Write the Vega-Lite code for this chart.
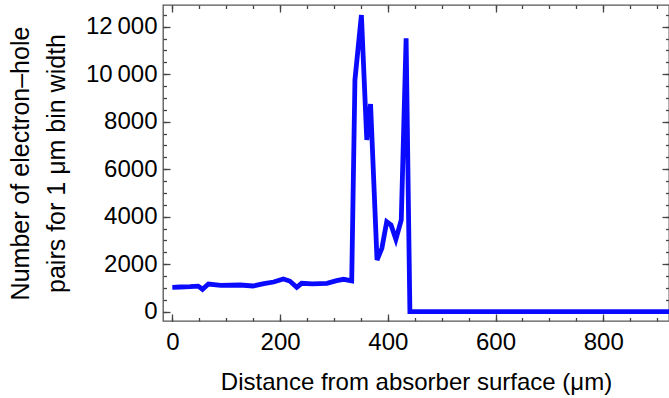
{
  "$schema": "https://vega.github.io/schema/vega-lite/v6.json",
  "width": 506,
  "height": 316,
  "autosize": {"type": "none"},
  "padding": {"left": 163, "top": 5, "right": 0, "bottom": 77},
  "background": "white",
  "config": {
    "view": {"stroke": "#555555", "strokeWidth": 1.3},
    "axis": {
      "labelFont": "Liberation Sans",
      "labelFontSize": 24,
      "labelColor": "#000000",
      "titleFont": "Liberation Sans",
      "titleFontSize": 24,
      "titleFontWeight": "normal",
      "titleColor": "#000000",
      "domain": false,
      "grid": false
    }
  },
  "data": {
    "values": [
      {"x": 0, "y": 1027},
      {"x": 15, "y": 1040},
      {"x": 33, "y": 1053},
      {"x": 48, "y": 1075},
      {"x": 56, "y": 943},
      {"x": 67, "y": 1166},
      {"x": 90, "y": 1110},
      {"x": 126, "y": 1124},
      {"x": 150, "y": 1082},
      {"x": 170, "y": 1180},
      {"x": 188, "y": 1250},
      {"x": 206, "y": 1377},
      {"x": 218, "y": 1290},
      {"x": 231, "y": 1027},
      {"x": 240, "y": 1196},
      {"x": 260, "y": 1170},
      {"x": 287, "y": 1196},
      {"x": 305, "y": 1305},
      {"x": 318, "y": 1364},
      {"x": 333, "y": 1300},
      {"x": 339, "y": 9756},
      {"x": 351, "y": 12492},
      {"x": 361, "y": 7229},
      {"x": 364, "y": 7900},
      {"x": 368, "y": 8745},
      {"x": 380, "y": 2177},
      {"x": 389, "y": 2669},
      {"x": 398, "y": 3789},
      {"x": 406, "y": 3650},
      {"x": 415, "y": 3048},
      {"x": 425, "y": 3861},
      {"x": 434, "y": 11512},
      {"x": 441, "y": 0},
      {"x": 930, "y": 0}
    ]
  },
  "resolve": {"axis": {"x": "independent", "y": "independent"}},
  "layer": [
    {
      "mark": {"type": "line", "strokeOpacity": 0},
      "encoding": {
        "x": {"field": "x", "type": "quantitative",
              "scale": {"domain": [-17.3, 922], "nice": false, "zero": false},
              "axis": {"orient": "bottom", "values": [0,50,100,150,200,250,300,350,400,450,500,550,600,650,700,750,800,850,900], "labels": false, "tickSize": -3.5, "tickColor": "#444444", "tickWidth": 1.3, "title": null}},
        "y": {"field": "y", "type": "quantitative",
              "scale": {"domain": [-392, 12914], "nice": false, "zero": false},
              "axis": {"orient": "left", "values": [0,500,1000,1500,2000,2500,3000,3500,4000,4500,5000,5500,6000,6500,7000,7500,8000,8500,9000,9500,10000,10500,11000,11500,12000,12500], "labels": false, "tickSize": -3.5, "tickColor": "#444444", "tickWidth": 1.3, "title": null}}
      }
    },
    {
      "mark": {"type": "line", "strokeOpacity": 0},
      "encoding": {
        "x": {"field": "x", "type": "quantitative",
              "scale": {"domain": [-17.3, 922], "nice": false, "zero": false},
              "axis": {"orient": "top", "values": [0,50,100,150,200,250,300,350,400,450,500,550,600,650,700,750,800,850,900], "labels": false, "tickSize": -3.5, "tickColor": "#444444", "tickWidth": 1.3, "title": null}},
        "y": {"field": "y", "type": "quantitative",
              "scale": {"domain": [-392, 12914], "nice": false, "zero": false},
              "axis": {"orient": "right", "values": [0,500,1000,1500,2000,2500,3000,3500,4000,4500,5000,5500,6000,6500,7000,7500,8000,8500,9000,9500,10000,10500,11000,11500,12000,12500], "labels": false, "tickSize": -3.5, "tickColor": "#444444", "tickWidth": 1.3, "title": null}}
      }
    },
    {
      "mark": {"type": "line", "strokeOpacity": 0},
      "encoding": {
        "x": {"field": "x", "type": "quantitative",
              "scale": {"domain": [-17.3, 922], "nice": false, "zero": false},
              "axis": {"orient": "top", "values": [0,200,400,600,800], "labels": false, "tickSize": -7, "tickColor": "#444444", "tickWidth": 1.3, "title": null}},
        "y": {"field": "y", "type": "quantitative",
              "scale": {"domain": [-392, 12914], "nice": false, "zero": false},
              "axis": {"orient": "right", "values": [0,2000,4000,6000,8000,10000,12000], "labels": false, "tickSize": -7, "tickColor": "#444444", "tickWidth": 1.3, "title": null}}
      }
    },
    {
      "mark": {"type": "line", "color": "#0a0aff", "strokeWidth": 4.8, "strokeJoin": "miter", "clip": true},
      "encoding": {
        "x": {"field": "x", "type": "quantitative",
              "scale": {"domain": [-17.3, 922], "nice": false, "zero": false},
              "axis": {"orient": "bottom", "values": [0,200,400,600,800], "tickSize": -7, "tickColor": "#444444", "tickWidth": 1.3, "labelPadding": 16, "format": "d",
                       "title": "Distance from absorber surface (μm)", "titlePadding": 16}},
        "y": {"field": "y", "type": "quantitative",
              "scale": {"domain": [-392, 12914], "nice": false, "zero": false},
              "axis": {"orient": "left", "values": [0,2000,4000,6000,8000,10000,12000], "tickSize": -7, "tickColor": "#444444", "tickWidth": 1.3, "labelPadding": 13,
                       "labelExpr": "datum.value >= 10000 ? replace(format(datum.value, ','), ',', '\u2009') : format(datum.value, 'd')",
                       "title": ["Number of electron–hole", "pairs for 1 μm bin width"], "titleFontSize": 25, "titlePadding": 16, "titleLineHeight": 36}}
      }
    }
  ]
}
